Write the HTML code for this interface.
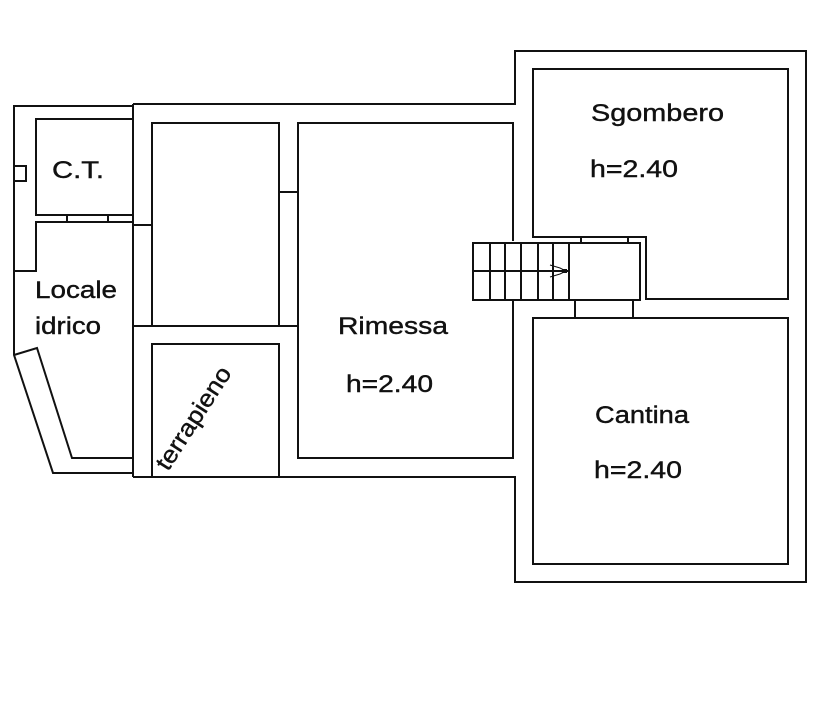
<!DOCTYPE html>
<html><head><meta charset="utf-8"><style>html,body{margin:0;padding:0;background:#fff}svg{display:block}</style></head>
<body>
<svg width="835" height="720" viewBox="0 0 835 720" xmlns="http://www.w3.org/2000/svg">
<g fill="none" stroke="#111" stroke-width="2">
<polyline points="133,104 515,104 515,51 806,51 806,582 515,582 515,477 133,477"/>
<polyline points="133,104 133,477"/>
<polyline points="133,106 14,106 14,355 53,473 133,473"/>
<polyline points="14,355 37,348 72,458 132,458"/>
<rect x="14" y="166" width="12" height="15"/>
<rect x="36" y="119" width="97" height="96"/>
<polyline points="133,222 36,222 36,271 14,271"/>
<line x1="67" y1="215" x2="67" y2="222"/><line x1="108" y1="215" x2="108" y2="222"/>
<rect x="152" y="123" width="127" height="203"/>
<line x1="133" y1="225" x2="152" y2="225"/>
<line x1="133" y1="326" x2="298" y2="326"/>
<line x1="279" y1="192" x2="298" y2="192"/>
<polyline points="152,476 152,344 279,344 279,476"/>
<polyline points="513,241 513,123 298,123 298,458 513,458 513,300"/>
<polygon points="533,69 788,69 788,299 646,299 646,237 533,237"/>
<rect x="533" y="318" width="255" height="246"/>
<rect x="473" y="243" width="167" height="57"/>
<line x1="473" y1="271" x2="569" y2="271"/>
<line x1="490" y1="243" x2="490" y2="300"/><line x1="505" y1="243" x2="505" y2="300"/>
<line x1="521" y1="243" x2="521" y2="300"/><line x1="538" y1="243" x2="538" y2="300"/>
<line x1="553" y1="243" x2="553" y2="300"/><line x1="569" y1="243" x2="569" y2="300"/>
<line x1="581" y1="237" x2="581" y2="243"/><line x1="628" y1="237" x2="628" y2="243"/>
<line x1="575" y1="300" x2="575" y2="318"/><line x1="633" y1="300" x2="633" y2="318"/>
</g>
<g stroke="#111" stroke-width="1" fill="none">
<polyline points="550,265 560,268 566,271 560,274 550,277"/>
<line x1="552" y1="271" x2="566" y2="271"/>
</g>
<rect x="562" y="269" width="5" height="4" fill="#111"/>
<g font-family="Liberation Sans, sans-serif" font-size="24" fill="#111" stroke="#111" stroke-width="0.4">
<text x="52" y="178" textLength="52" lengthAdjust="spacingAndGlyphs">C.T.</text>
<text x="35" y="298" textLength="82" lengthAdjust="spacingAndGlyphs">Locale</text>
<text x="35" y="334" textLength="66" lengthAdjust="spacingAndGlyphs">idrico</text>
<text x="338" y="334" textLength="110" lengthAdjust="spacingAndGlyphs">Rimessa</text>
<text x="346" y="392" textLength="87" lengthAdjust="spacingAndGlyphs">h=2.40</text>
<text x="591" y="121" textLength="133" lengthAdjust="spacingAndGlyphs">Sgombero</text>
<text x="590" y="177" textLength="88" lengthAdjust="spacingAndGlyphs">h=2.40</text>
<text x="595" y="423" textLength="94" lengthAdjust="spacingAndGlyphs">Cantina</text>
<text x="594" y="478" textLength="88" lengthAdjust="spacingAndGlyphs">h=2.40</text>
<text transform="translate(168,472) rotate(-57)" textLength="118" lengthAdjust="spacingAndGlyphs">terrapieno</text>
</g>
</svg>
</body></html>
